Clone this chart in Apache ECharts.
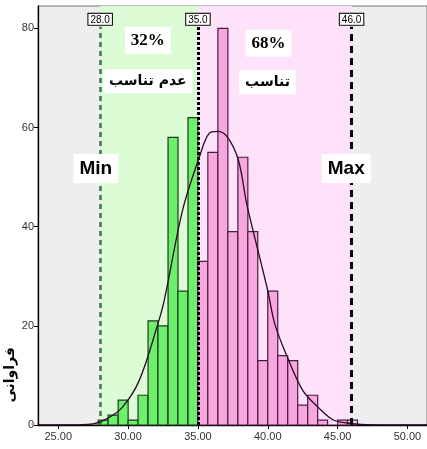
<!DOCTYPE html>
<html><head><meta charset="utf-8">
<script src="https://cdn.jsdelivr.net/npm/echarts@6/dist/echarts.min.js"></script>
<style>html,body{margin:0;padding:0;background:#fff}#c{width:427px;height:449px}</style>
</head><body><div id="c"></div>
<script>
// bin left edges and counts, bin width ~0.714
const binWidth = 0.714;
const greenBinStarts = [27.86, 28.57, 29.29, 30.00, 30.71, 31.43, 32.14, 32.86, 33.57, 34.29];
const greenCounts    = [1, 2, 5, 1, 6, 21, 20, 58, 27, 62];
const pinkBinStarts  = [35.00, 35.71, 36.43, 37.14, 37.86, 38.57, 39.29, 40.00, 40.71, 41.43, 42.14, 42.86, 43.57, 44.29, 45.00, 45.71];
const pinkCounts     = [33, 55, 80, 39, 54, 39, 13, 27, 14, 13, 4, 6, 1, 0, 1, 1];
// fitted normal curve
const curveX = [23.6, 25, 26.2, 27.3, 28.5, 29.6, 30.8, 32.1, 32.6, 33.9, 35.1, 35.8, 36.4, 37.1, 37.9, 38.5, 40.0, 40.5, 41.4, 42.5, 43.6, 44.7, 45.7, 47, 49, 51.4];
const curveY = [0, 0, 0.03, 0.15, 1.3, 3.6, 9.0, 20.1, 25.3, 43.3, 54, 58.8, 59.2, 58.1, 53.4, 44.5, 27.1, 20.4, 13.7, 7.0, 3.6, 1.0, 0.4, 0.05, 0, 0];
const xTicks = [25, 30, 35, 40, 45, 50];
const yTicks = [0, 20, 40, 60, 80];
const cutMin = 28.0, cutMid = 35.0, cutMax = 46.0;
const annotations = [
  {name:'32%', coord:[31.41, 77.6], size:17, weight:'bold', family:'Liberation Serif'},
  {name:'عدم تناسب', coord:[31.41, 69.3], size:14, weight:'bold', family:'DejaVu Sans'},
  {name:'68%', coord:[40.05, 77.0], size:17, weight:'bold', family:'Liberation Serif'},
  {name:'تناسب', coord:[39.98, 69.1], size:14, weight:'bold', family:'DejaVu Sans'},
  {name:'Min', coord:[27.69, 51.75], size:19, weight:'bold', family:'Liberation Sans'},
  {name:'Max', coord:[45.62, 51.75], size:19, weight:'bold', family:'Liberation Sans'}
];

const chart = echarts.init(document.getElementById('c'), null, {renderer:'canvas'});

function barData(starts, counts){ return starts.map((s,i)=>[s, s+binWidth, counts[i]]); }
function renderBar(fill, stroke, isPink){
  return function(params, api){
    const p0 = api.coord([api.value(0), api.value(2)]);
    const p1 = api.coord([api.value(1), 0]);
    const last = isPink && params.dataIndex === pinkCounts.length-1;
    return {type:'rect', shape:{x:p0[0], y:p0[1], width:p1[0]-p0[0], height:p1[1]-p0[1]},
      style:{fill: last ? '#f1d6e4' : fill, stroke: stroke, lineWidth:1.2}};
  };
}

const option = {
  animation:false,
  grid:{left:38, right:-2, top:6, bottom:24, show:true, backgroundColor:'#eeeeee', borderColor:'#777', borderWidth:1},
  xAxis:{type:'value', min:23.55, max:51.4,
    axisLine:{show:true, onZero:false, lineStyle:{color:'#000', width:1.3}},
    axisTick:{show:true, customValues:xTicks, length:4, lineStyle:{color:'#000'}},
    axisLabel:{customValues:xTicks, formatter:v=>v.toFixed(2), color:'#333', fontSize:11, fontFamily:'Liberation Sans', margin:6},
    splitLine:{show:false}},
  yAxis:{type:'value', min:0, max:84.5,
    axisLine:{show:true, lineStyle:{color:'#000', width:1.3}},
    axisTick:{show:true, customValues:yTicks, length:4, lineStyle:{color:'#000'}},
    axisLabel:{customValues:yTicks, color:'#333', fontSize:11, fontFamily:'Liberation Sans', margin:4},
    splitLine:{show:false}},
  series:[
    {type:'line', data:[], silent:true, z:1,
     markArea:{silent:true, data:[
       [{xAxis:cutMin, itemStyle:{color:'#dcfcd6'}},{xAxis:cutMid}],
       [{xAxis:cutMid, itemStyle:{color:'#fde2fa'}},{xAxis:cutMax}]
     ]}},
    {type:'custom', name:'green', z:3, renderItem:renderBar('#6cef6a','#1f3a1f', false), data:barData(greenBinStarts, greenCounts)},
    {type:'custom', name:'pink', z:3, renderItem:renderBar('#f8a6de','#4a1a40', true), data:barData(pinkBinStarts, pinkCounts)},
    {type:'line', z:5, smooth:0.35, symbol:'none', data:curveX.map((x,i)=>[x, curveY[i]]),
     lineStyle:{color:'#2a0a25', width:1.3}},
    {type:'line', data:[], z:6,
     markLine:{silent:true, symbol:'none', animation:false,
       label:{show:true, position:'end', distance:2, color:'#000', fontSize:10, fontFamily:'Liberation Sans',
              backgroundColor:'#fff', borderColor:'#000', borderWidth:1, padding:[1,2,0,2]},
       data:[
         [{coord:[cutMin,0], lineStyle:{color:'#3b7a48', width:2.5, type:[5,4]}, label:{formatter:'28.0'}},{coord:[cutMin,80.3]}],
         [{coord:[cutMid,0], lineStyle:{color:'#000', width:3, type:[3,2]}, label:{formatter:'35.0'}},{coord:[cutMid,80.3]}],
         [{coord:[cutMax,0], lineStyle:{color:'#000', width:3, type:[7,5]}, label:{formatter:'46.0'}},{coord:[cutMax,80.3]}]
       ]}},
    {type:'line', data:[], z:7,
     markPoint:{silent:true, symbol:'rect', symbolSize:0,
       data:annotations.map(a=>({coord:a.coord, name:a.name,
         label:{show:true, position:'inside', formatter:a.name, fontSize:a.size, fontWeight:a.weight,
                fontFamily:a.family, color:'#000', backgroundColor:'#fff', padding:[5,6]}}))}}
  ],
  graphic:[{type:'text', left:3, top:347, rotation:Math.PI/2, z:10,
    style:{text:'فراوانی', fontSize:14, fontWeight:'bold', fontFamily:'DejaVu Sans', fill:'#000'}}]
};
chart.setOption(option);
</script></body></html>
